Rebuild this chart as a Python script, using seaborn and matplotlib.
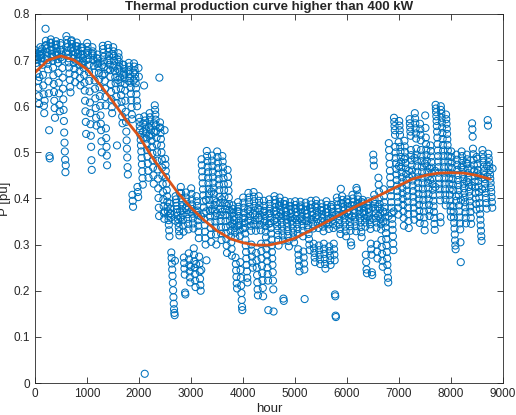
import numpy as np
import pandas as pd
import seaborn as sns
import matplotlib
matplotlib.use('Agg')
import matplotlib.pyplot as plt

# hourly thermal production (pu) in 100-hour blocks
block_hours = list(range(0, 8800, 100))

p_q1 = [
    [0.722, 0.715, 0.708, 0.701, 0.694, 0.712, 0.703, 0.686, 0.671, 0.655, 0.640, 0.622, 0.605, 0.663, 0.717, 0.709],
    [0.728, 0.719, 0.711, 0.704, 0.697, 0.724, 0.714, 0.690, 0.668, 0.645, 0.626, 0.601, 0.585, 0.612, 0.702, 0.731],
    [0.768, 0.742, 0.733, 0.725, 0.718, 0.709, 0.700, 0.692, 0.680, 0.654, 0.628, 0.548, 0.492, 0.487, 0.721, 0.737],
    [0.745, 0.738, 0.729, 0.721, 0.713, 0.706, 0.698, 0.684, 0.667, 0.648, 0.631, 0.612, 0.596, 0.575, 0.716, 0.733],
    [0.741, 0.734, 0.726, 0.718, 0.710, 0.702, 0.694, 0.672, 0.651, 0.628, 0.603, 0.589, 0.722, 0.737, 0.706],
    [0.732, 0.722, 0.712, 0.701, 0.683, 0.662, 0.638, 0.615, 0.592, 0.568, 0.543, 0.521, 0.502, 0.484, 0.457, 0.472, 0.716],
    [0.752, 0.744, 0.736, 0.728, 0.720, 0.712, 0.704, 0.695, 0.684, 0.671, 0.657, 0.642, 0.630, 0.725, 0.741],
    [0.743, 0.735, 0.727, 0.719, 0.711, 0.703, 0.694, 0.681, 0.668, 0.652, 0.716, 0.730, 0.698],
    [0.738, 0.730, 0.722, 0.714, 0.706, 0.698, 0.689, 0.676, 0.661, 0.645, 0.712, 0.726, 0.693],
    [0.728, 0.720, 0.712, 0.704, 0.695, 0.683, 0.668, 0.651, 0.634, 0.612, 0.589, 0.566, 0.540, 0.700, 0.716],
    [0.737, 0.729, 0.720, 0.711, 0.702, 0.690, 0.674, 0.655, 0.632, 0.608, 0.585, 0.561, 0.536, 0.512, 0.483, 0.462, 0.715],
    [0.728, 0.719, 0.710, 0.700, 0.688, 0.673, 0.656, 0.638, 0.617, 0.596, 0.575, 0.558, 0.704, 0.692],
    [0.712, 0.703, 0.694, 0.684, 0.672, 0.658, 0.641, 0.622, 0.601, 0.580, 0.562, 0.548, 0.524, 0.500, 0.689, 0.667],
    [0.731, 0.724, 0.716, 0.707, 0.697, 0.685, 0.671, 0.655, 0.638, 0.620, 0.602, 0.552, 0.531, 0.512, 0.493, 0.472, 0.699, 0.680],
    [0.733, 0.726, 0.718, 0.709, 0.700, 0.690, 0.678, 0.664, 0.648, 0.631, 0.615, 0.598, 0.585, 0.713, 0.684],
    [0.728, 0.719, 0.709, 0.699, 0.688, 0.676, 0.663, 0.650, 0.636, 0.621, 0.607, 0.515, 0.702, 0.681, 0.657],
    [0.715, 0.706, 0.696, 0.686, 0.675, 0.663, 0.651, 0.638, 0.624, 0.610, 0.595, 0.578, 0.563, 0.690, 0.668],
    [0.690, 0.681, 0.671, 0.660, 0.648, 0.634, 0.612, 0.588, 0.566, 0.545, 0.526, 0.508, 0.489, 0.468, 0.452, 0.675, 0.655],
    [0.694, 0.686, 0.678, 0.670, 0.661, 0.651, 0.640, 0.627, 0.613, 0.598, 0.582, 0.572, 0.408, 0.395, 0.382, 0.673, 0.656],
    [0.693, 0.686, 0.678, 0.669, 0.660, 0.650, 0.639, 0.626, 0.612, 0.600, 0.425, 0.414, 0.403, 0.683, 0.664],
    [0.575, 0.566, 0.557, 0.548, 0.538, 0.527, 0.515, 0.502, 0.488, 0.474, 0.459, 0.444, 0.430, 0.545, 0.562, 0.532, 0.645],
    [0.578, 0.020, 0.569, 0.560, 0.551, 0.541, 0.530, 0.518, 0.505, 0.491, 0.476, 0.460, 0.445, 0.555, 0.536],
]

p_q2 = [
    [0.585, 0.576, 0.567, 0.558, 0.548, 0.537, 0.525, 0.512, 0.498, 0.483, 0.467, 0.450, 0.432, 0.563, 0.543],
    [0.602, 0.592, 0.582, 0.571, 0.559, 0.546, 0.532, 0.517, 0.500, 0.482, 0.463, 0.443, 0.422, 0.401, 0.380, 0.362, 0.662, 0.553],
    [0.565, 0.554, 0.542, 0.529, 0.515, 0.500, 0.484, 0.467, 0.449, 0.431, 0.414, 0.398, 0.383, 0.368, 0.356, 0.548, 0.372],
    [0.486, 0.473, 0.460, 0.446, 0.432, 0.418, 0.405, 0.393, 0.382, 0.372, 0.362, 0.353, 0.343, 0.331, 0.318, 0.389, 0.367],
    [0.378, 0.368, 0.359, 0.283, 0.271, 0.259, 0.246, 0.232, 0.217, 0.201, 0.186, 0.172, 0.160, 0.152, 0.147, 0.265, 0.352],
    [0.405, 0.398, 0.391, 0.384, 0.377, 0.370, 0.363, 0.355, 0.347, 0.338, 0.329, 0.320, 0.412, 0.372, 0.358],
    [0.425, 0.412, 0.401, 0.392, 0.383, 0.374, 0.364, 0.353, 0.341, 0.328, 0.272, 0.260, 0.248, 0.235, 0.196, 0.192, 0.379],
    [0.413, 0.402, 0.393, 0.384, 0.375, 0.366, 0.356, 0.345, 0.333, 0.281, 0.268, 0.255, 0.242, 0.229, 0.218, 0.371, 0.252],
    [0.422, 0.410, 0.398, 0.387, 0.377, 0.367, 0.357, 0.346, 0.335, 0.292, 0.278, 0.264, 0.250, 0.236, 0.222, 0.208, 0.372, 0.258],
    [0.405, 0.394, 0.384, 0.374, 0.364, 0.353, 0.341, 0.328, 0.314, 0.274, 0.258, 0.242, 0.226, 0.212, 0.200, 0.361, 0.245],
    [0.485, 0.472, 0.459, 0.446, 0.433, 0.420, 0.407, 0.394, 0.381, 0.368, 0.355, 0.342, 0.328, 0.314, 0.300, 0.397, 0.372, 0.266],
    [0.503, 0.492, 0.481, 0.469, 0.457, 0.445, 0.433, 0.421, 0.409, 0.397, 0.385, 0.373, 0.361, 0.349, 0.336, 0.322, 0.306, 0.415, 0.377],
    [0.493, 0.482, 0.470, 0.458, 0.446, 0.434, 0.422, 0.410, 0.398, 0.386, 0.374, 0.362, 0.350, 0.337, 0.322, 0.300, 0.392, 0.368],
    [0.502, 0.490, 0.478, 0.466, 0.454, 0.442, 0.430, 0.418, 0.404, 0.390, 0.377, 0.364, 0.351, 0.338, 0.324, 0.310, 0.398, 0.371],
    [0.492, 0.480, 0.468, 0.456, 0.444, 0.431, 0.418, 0.404, 0.390, 0.377, 0.364, 0.351, 0.338, 0.325, 0.312, 0.298, 0.282, 0.384],
    [0.462, 0.447, 0.432, 0.417, 0.402, 0.388, 0.375, 0.363, 0.352, 0.341, 0.330, 0.318, 0.305, 0.291, 0.276, 0.368, 0.345],
    [0.385, 0.377, 0.369, 0.361, 0.353, 0.345, 0.336, 0.326, 0.316, 0.272, 0.258, 0.244, 0.230, 0.216, 0.205, 0.372, 0.341],
    [0.392, 0.382, 0.372, 0.362, 0.352, 0.342, 0.331, 0.319, 0.262, 0.245, 0.228, 0.211, 0.195, 0.180, 0.165, 0.158, 0.357, 0.335],
    [0.402, 0.391, 0.380, 0.369, 0.358, 0.347, 0.336, 0.324, 0.311, 0.298, 0.284, 0.270, 0.256, 0.242, 0.228, 0.218, 0.375, 0.352],
    [0.412, 0.402, 0.392, 0.382, 0.372, 0.362, 0.352, 0.341, 0.330, 0.300, 0.287, 0.274, 0.261, 0.250, 0.367, 0.345],
    [0.414, 0.404, 0.394, 0.384, 0.374, 0.364, 0.353, 0.342, 0.330, 0.282, 0.266, 0.250, 0.234, 0.218, 0.203, 0.190, 0.378, 0.358],
    [0.405, 0.395, 0.385, 0.375, 0.365, 0.354, 0.343, 0.331, 0.302, 0.286, 0.270, 0.254, 0.238, 0.222, 0.206, 0.188, 0.370, 0.348],
]

p_q3 = [
    [0.395, 0.384, 0.373, 0.362, 0.351, 0.340, 0.328, 0.316, 0.303, 0.290, 0.277, 0.264, 0.250, 0.236, 0.222, 0.158, 0.367, 0.345],
    [0.398, 0.388, 0.378, 0.368, 0.358, 0.347, 0.336, 0.324, 0.311, 0.298, 0.284, 0.270, 0.256, 0.240, 0.222, 0.203, 0.155, 0.372, 0.352],
    [0.405, 0.397, 0.389, 0.381, 0.373, 0.365, 0.357, 0.349, 0.340, 0.331, 0.321, 0.310, 0.298, 0.385, 0.362],
    [0.402, 0.393, 0.384, 0.375, 0.366, 0.357, 0.348, 0.339, 0.330, 0.320, 0.309, 0.183, 0.178, 0.388, 0.361],
    [0.395, 0.387, 0.379, 0.371, 0.363, 0.355, 0.347, 0.338, 0.329, 0.319, 0.308, 0.296, 0.383, 0.358],
    [0.392, 0.384, 0.376, 0.368, 0.360, 0.352, 0.344, 0.335, 0.326, 0.316, 0.305, 0.378, 0.356],
    [0.394, 0.386, 0.378, 0.370, 0.362, 0.353, 0.344, 0.334, 0.323, 0.290, 0.278, 0.266, 0.254, 0.242, 0.381, 0.357],
    [0.393, 0.385, 0.377, 0.369, 0.360, 0.351, 0.341, 0.330, 0.318, 0.285, 0.272, 0.259, 0.246, 0.182, 0.374, 0.352],
    [0.391, 0.383, 0.375, 0.367, 0.359, 0.351, 0.342, 0.333, 0.323, 0.312, 0.300, 0.288, 0.379, 0.355],
    [0.395, 0.387, 0.379, 0.371, 0.363, 0.354, 0.345, 0.335, 0.302, 0.292, 0.282, 0.272, 0.262, 0.383, 0.360],
    [0.396, 0.388, 0.380, 0.372, 0.364, 0.355, 0.346, 0.336, 0.298, 0.288, 0.278, 0.268, 0.258, 0.375, 0.352],
    [0.389, 0.381, 0.373, 0.365, 0.357, 0.348, 0.339, 0.329, 0.302, 0.291, 0.280, 0.269, 0.258, 0.248, 0.370, 0.346],
    [0.394, 0.386, 0.378, 0.370, 0.362, 0.353, 0.344, 0.334, 0.296, 0.286, 0.276, 0.266, 0.256, 0.382, 0.358],
    [0.386, 0.378, 0.370, 0.362, 0.354, 0.345, 0.336, 0.302, 0.290, 0.278, 0.266, 0.192, 0.188, 0.146, 0.143, 0.365, 0.341],
    [0.402, 0.394, 0.386, 0.378, 0.370, 0.362, 0.353, 0.344, 0.334, 0.323, 0.421, 0.390, 0.366],
    [0.405, 0.397, 0.389, 0.381, 0.373, 0.365, 0.357, 0.348, 0.339, 0.329, 0.318, 0.393, 0.369],
    [0.398, 0.390, 0.382, 0.374, 0.366, 0.358, 0.349, 0.340, 0.330, 0.305, 0.298, 0.385, 0.361],
    [0.408, 0.400, 0.392, 0.384, 0.376, 0.368, 0.359, 0.350, 0.340, 0.329, 0.423, 0.418, 0.388],
    [0.406, 0.398, 0.390, 0.382, 0.374, 0.366, 0.357, 0.348, 0.338, 0.327, 0.316, 0.392, 0.369],
    [0.397, 0.389, 0.381, 0.373, 0.365, 0.357, 0.348, 0.339, 0.278, 0.262, 0.246, 0.238, 0.385, 0.360],
    [0.394, 0.386, 0.378, 0.370, 0.362, 0.353, 0.344, 0.334, 0.302, 0.290, 0.278, 0.240, 0.234, 0.380, 0.356],
    [0.495, 0.483, 0.471, 0.408, 0.398, 0.388, 0.378, 0.368, 0.358, 0.348, 0.337, 0.300, 0.285, 0.270, 0.382, 0.362],
]

p_q4 = [
    [0.445, 0.430, 0.415, 0.400, 0.388, 0.377, 0.366, 0.355, 0.344, 0.333, 0.310, 0.295, 0.280, 0.265, 0.252, 0.372, 0.350],
    [0.420, 0.405, 0.392, 0.381, 0.370, 0.359, 0.348, 0.337, 0.325, 0.312, 0.298, 0.284, 0.270, 0.256, 0.242, 0.228, 0.218, 0.362],
    [0.520, 0.505, 0.490, 0.475, 0.460, 0.446, 0.432, 0.418, 0.405, 0.392, 0.380, 0.368, 0.356, 0.344, 0.332, 0.318, 0.302, 0.288, 0.372],
    [0.575, 0.566, 0.557, 0.548, 0.538, 0.512, 0.500, 0.488, 0.476, 0.464, 0.452, 0.440, 0.428, 0.416, 0.404, 0.392, 0.380, 0.365, 0.522, 0.470],
    [0.568, 0.558, 0.548, 0.538, 0.512, 0.501, 0.490, 0.479, 0.468, 0.457, 0.446, 0.435, 0.423, 0.411, 0.399, 0.386, 0.372, 0.358, 0.341, 0.485],
    [0.525, 0.513, 0.501, 0.489, 0.477, 0.465, 0.453, 0.441, 0.429, 0.417, 0.405, 0.393, 0.380, 0.366, 0.351, 0.336, 0.460, 0.445],
    [0.572, 0.563, 0.554, 0.545, 0.536, 0.505, 0.494, 0.483, 0.472, 0.461, 0.450, 0.439, 0.428, 0.416, 0.404, 0.392, 0.380, 0.367, 0.354, 0.488],
    [0.585, 0.574, 0.563, 0.552, 0.541, 0.530, 0.508, 0.495, 0.482, 0.470, 0.458, 0.446, 0.434, 0.422, 0.410, 0.398, 0.386, 0.373, 0.360, 0.347],
    [0.562, 0.550, 0.538, 0.526, 0.505, 0.493, 0.481, 0.469, 0.457, 0.445, 0.433, 0.421, 0.409, 0.397, 0.385, 0.372, 0.359, 0.345, 0.331, 0.476],
    [0.580, 0.553, 0.532, 0.518, 0.506, 0.494, 0.482, 0.470, 0.458, 0.446, 0.434, 0.422, 0.410, 0.398, 0.386, 0.374, 0.362, 0.465, 0.440],
    [0.515, 0.503, 0.491, 0.479, 0.467, 0.455, 0.443, 0.431, 0.419, 0.407, 0.395, 0.383, 0.371, 0.358, 0.345, 0.332, 0.460, 0.425],
    [0.603, 0.595, 0.587, 0.578, 0.568, 0.557, 0.545, 0.532, 0.518, 0.504, 0.492, 0.480, 0.468, 0.456, 0.444, 0.432, 0.420, 0.408, 0.396, 0.360, 0.348],
    [0.600, 0.592, 0.584, 0.575, 0.565, 0.554, 0.542, 0.529, 0.516, 0.504, 0.492, 0.480, 0.468, 0.456, 0.444, 0.432, 0.420, 0.408, 0.397, 0.385],
    [0.582, 0.572, 0.562, 0.551, 0.540, 0.528, 0.516, 0.504, 0.492, 0.480, 0.468, 0.456, 0.444, 0.432, 0.420, 0.408, 0.396, 0.384, 0.372, 0.360],
    [0.502, 0.490, 0.478, 0.466, 0.454, 0.442, 0.430, 0.418, 0.383, 0.371, 0.359, 0.347, 0.335, 0.322, 0.309, 0.298, 0.290, 0.405, 0.395],
    [0.495, 0.484, 0.473, 0.462, 0.451, 0.440, 0.429, 0.418, 0.407, 0.385, 0.372, 0.359, 0.346, 0.333, 0.305, 0.262, 0.396, 0.468],
    [0.502, 0.492, 0.482, 0.472, 0.462, 0.452, 0.442, 0.432, 0.422, 0.412, 0.402, 0.392, 0.381, 0.370, 0.358, 0.346, 0.477, 0.437],
    [0.495, 0.485, 0.475, 0.465, 0.455, 0.445, 0.435, 0.425, 0.415, 0.405, 0.394, 0.383, 0.371, 0.358, 0.345, 0.463, 0.428],
    [0.563, 0.550, 0.534, 0.508, 0.496, 0.484, 0.472, 0.460, 0.448, 0.436, 0.424, 0.412, 0.400, 0.388, 0.376, 0.490, 0.455],
    [0.486, 0.474, 0.462, 0.450, 0.438, 0.426, 0.414, 0.402, 0.390, 0.378, 0.366, 0.354, 0.342, 0.330, 0.318, 0.308, 0.445, 0.420],
    [0.505, 0.496, 0.487, 0.478, 0.469, 0.460, 0.451, 0.442, 0.432, 0.422, 0.412, 0.401, 0.390, 0.378, 0.470, 0.448],
    [0.570, 0.558, 0.497, 0.488, 0.479, 0.470, 0.461, 0.452, 0.443, 0.434, 0.424, 0.414, 0.403, 0.392, 0.380, 0.465],
]

# polynomial trend line
fit_hours = [0, 250, 500, 750, 1000, 1250, 1500, 1750, 2000, 2250, 2500, 2750,
             3000, 3250, 3500, 3750, 4000, 4250, 4500, 4750, 5000, 5250, 5500,
             5750, 6000, 6250, 6500, 6750, 7000, 7250, 7500, 7750, 8000, 8250,
             8500, 8750]
fit_values = [0.673, 0.700, 0.709, 0.700, 0.680, 0.647, 0.610, 0.570, 0.535,
              0.490, 0.450, 0.412, 0.380, 0.353, 0.330, 0.313, 0.304, 0.299,
              0.299, 0.305, 0.314, 0.328, 0.343, 0.358, 0.373, 0.387, 0.400,
              0.414, 0.428, 0.442, 0.450, 0.455, 0.456, 0.455, 0.450, 0.442]

blocks = p_q1 + p_q2 + p_q3 + p_q4
rows = []
for start, vals in zip(block_hours, blocks):
    n = len(vals)
    for i, v in enumerate(vals):
        # readings are listed in time order inside each 100 h block
        rows.append((start + (i + 0.5) * 100 / n, v))
df = pd.DataFrame(rows, columns=['hour', 'P'])
fit = pd.DataFrame({'hour': fit_hours, 'P': fit_values})

sns.set_style('white')
plt.rcParams['font.family'] = ['Liberation Sans', 'DejaVu Sans']

fig = plt.figure(figsize=(5.16, 4.15), dpi=100)
ax = fig.add_axes([0.0678, 0.0771, 0.9072, 0.8892])

sns.scatterplot(data=df, x='hour', y='P', ax=ax, marker='o', s=26,
                facecolors='none', edgecolor='#0072BD', linewidth=0.75)
sns.lineplot(data=fit, x='hour', y='P', ax=ax, color='#D95319', linewidth=2)

ax.set_xlim(0, 9000)
ax.set_ylim(0, 0.8)
ax.set_xticks(np.arange(0, 9001, 1000))
ax.set_yticks(np.arange(0, 0.81, 0.1))
ax.set_yticklabels(['0', '0.1', '0.2', '0.3', '0.4', '0.5', '0.6', '0.7', '0.8'])
ax.tick_params(direction='in', length=4, width=0.6, colors='#262626', labelsize=8.5,
               top=True, right=True, bottom=True, left=True)
for s in ax.spines.values():
    s.set_color('#262626')
    s.set_linewidth(0.6)
ax.set_xlabel('hour', fontsize=9.5, labelpad=2)
ax.set_ylabel('P [pu]', fontsize=9.5, labelpad=2)
ax.set_title('Thermal production curve higher than 400 kW', fontsize=9.5,
             fontweight='bold', pad=3)

fig.savefig('out.png', dpi=100)
